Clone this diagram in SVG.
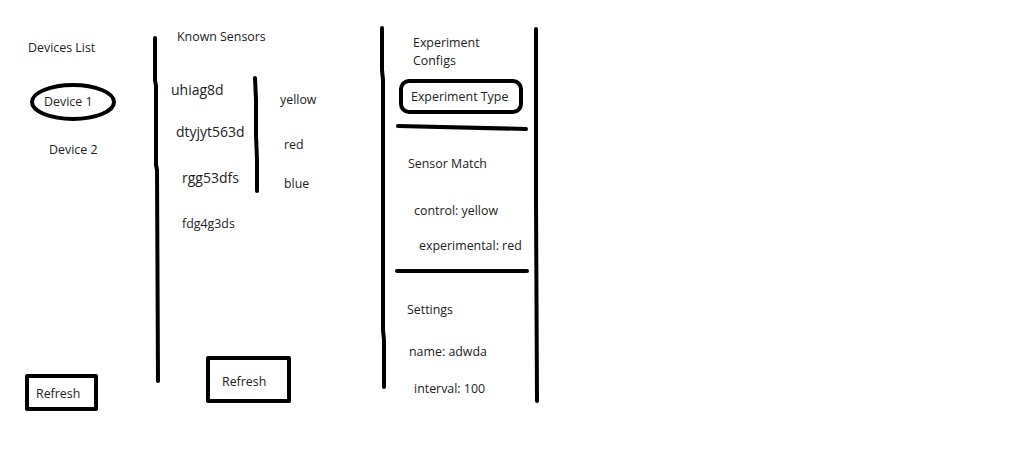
<svg xmlns="http://www.w3.org/2000/svg" width="1035" height="450" viewBox="0 0 1035 450">
<style>
text{font-family:"Open Sans","Noto Sans","Liberation Sans",sans-serif;fill:#222;font-size:12.4px}
.big{font-size:14px}
.ln{stroke:#000;stroke-width:4;fill:none;stroke-linecap:round;stroke-linejoin:round}
</style>
<rect width="1035" height="450" fill="#fff"/>
<g id="devices-panel">
<text x="28" y="52">Devices List</text>
<ellipse class="ln" cx="73" cy="102" rx="41" ry="17"/>
<text x="44" y="106">Device 1</text>
<text x="49" y="154">Device 2</text>
</g>
<g id="devices-refresh">
<rect class="ln" x="27" y="376" width="69" height="33" stroke-linecap="square" stroke-linejoin="miter"/>
<text x="36" y="398">Refresh</text>
</g>
<g id="sensors-panel">
<text x="177" y="41">Known Sensors</text>
<text class="big" x="171" y="95">uhiag8d</text>
<text class="big" x="176" y="137">dtyjyt563d</text>
<text class="big" x="182" y="183">rgg53dfs</text>
<text x="182" y="228">fdg4g3ds</text>
<text x="280" y="104">yellow</text>
<text x="284" y="149">red</text>
<text x="284" y="188">blue</text>
</g>
<g id="sensors-refresh">
<rect class="ln" x="208" y="358" width="81" height="43" stroke-linecap="square" stroke-linejoin="miter"/>
<text x="222" y="386">Refresh</text>
</g>
<g id="config-panel">
<text x="413" y="47">Experiment</text>
<text x="413" y="65">Configs</text>
<rect class="ln" x="401" y="81" width="120" height="31" rx="8"/>
<text x="411" y="101">Experiment Type</text>
<text x="408" y="168">Sensor Match</text>
<text x="414" y="215">control: yellow</text>
<text x="419" y="250">experimental: red</text>
<text x="407" y="314">Settings</text>
<text x="409" y="356">name: adwda</text>
<text x="414" y="393">interval: 100</text>
</g>
<g id="connectors">
<polyline class="ln" points="155,38 155,80 156,86 156,165 157,170 158,381"/>
<polyline class="ln" points="255,78 256,100 256,135 257,160 257,191"/>
<polyline class="ln" points="382,28 382,70 383,80 383,330 384,340 384,387"/>
<polyline class="ln" points="536,29 536,200 537,401"/>
<line class="ln" x1="398" y1="126" x2="526" y2="129"/>
<line class="ln" x1="397" y1="271" x2="527" y2="271"/>
</g>
</svg>
